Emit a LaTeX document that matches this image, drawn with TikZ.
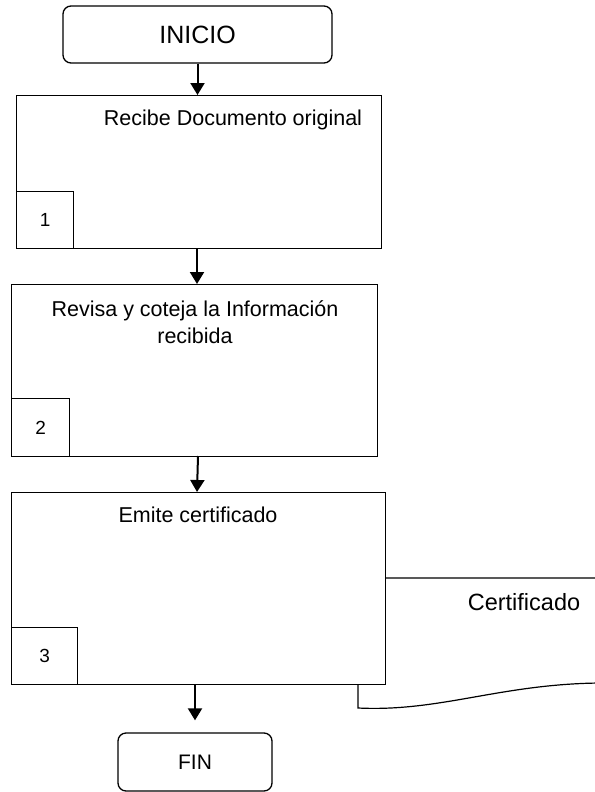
\documentclass[tikz,border=0pt]{standalone}
\usepackage{fontspec}
\setmainfont{Liberation Sans}
\usetikzlibrary{arrows.meta,positioning}

\begin{document}
\begin{tikzpicture}[x=1pt,y=-1pt,
  term/.style={draw,rounded corners=8pt,line width=1.3pt,inner sep=0pt},
  proc/.style={draw,fill=white,line width=1.2pt,inner sep=0pt,anchor=north west},
  numbox/.style={draw,line width=1.2pt,inner sep=0pt,minimum width=57pt,minimum height=57pt,anchor=south west,font=\fontsize{19}{22}\selectfont},
  flow/.style={-{Triangle[length=12pt,width=14pt]},line width=2pt},
  txt/.style={font=\fontsize{21.5}{27}\selectfont,align=center}]
		\useasboundingbox (0,0) rectangle (594,792);

		% inicio
		\node[term, minimum width=269pt, minimum height=57pt, font=\fontsize{25}{30}\selectfont] (inicio) at (197.5,34.5) {INICIO};

		% paso 1
		\node[proc, minimum width=365pt, minimum height=153pt] (recibe) at (16,95) {};
		\node[numbox] (n1) at (recibe.south west) {1};
		\node[txt] (trecibe) at (233,120) {Recibe Documento original};

		% paso 2
		\node[proc, minimum width=366pt, minimum height=172pt] (revisa) at (11,284) {};
		\node[numbox, minimum width=58pt, minimum height=58pt] (n2) at (revisa.south west) {2};
		\node[txt] (trevisa) at (195,322) {Revisa y coteja la Información\\recibida};

		% documento de salida
		\draw[line width=1.2pt] (600,578) -- (358,578) -- (358,708)
		      .. controls (440,712) and (500,684) .. (600,683);
		\node[txt, font=\fontsize{23.5}{28}\selectfont] (cert) at (524,602) {Certificado};

		% paso 3
		\node[proc, minimum width=374pt, minimum height=192pt] (emite) at (11,492) {};
		\node[numbox, minimum width=66pt] (n3) at (emite.south west) {3};
		\node[txt] (temite) at (198,515) {Emite certificado};

		% fin
		\node[term, minimum width=154pt, minimum height=58pt, font=\fontsize{21}{25}\selectfont] (fin) at (195,762) {FIN};

		\draw[flow] (inicio.south) -- (inicio.south |- recibe.north);
		\draw[flow] (197,248) -- (197,284);
		\draw[flow] (198,456) -- (197,492);
		\draw[flow, shorten >=12pt] (emite.south -| fin.north) -- (fin.north);
	\end{tikzpicture}
\end{document}
